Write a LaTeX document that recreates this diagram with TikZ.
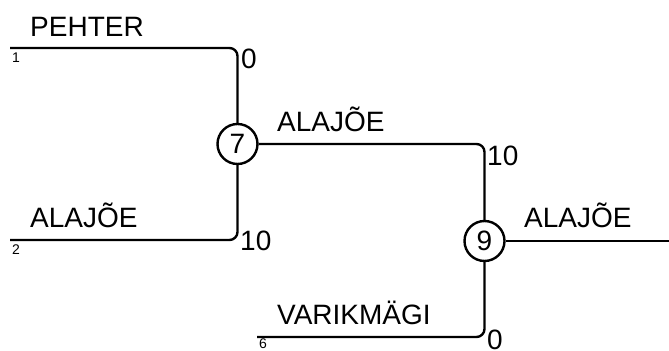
\documentclass[tikz,border=0pt]{standalone}
\usepackage{fontspec}
\setmainfont{Liberation Sans}
\tikzset{
  team/.style={inner sep=0pt,anchor=base west,font=\fontsize{14}{16}\selectfont},
  score/.style={inner sep=0pt,anchor=west,font=\fontsize{14}{16}\selectfont},
  seed/.style={inner sep=0pt,anchor=west,font=\fontsize{7}{8}\selectfont},
  game/.style={draw,circle,line width=1.2pt,minimum size=20pt,inner sep=0pt,font=\fontsize{14}{16}\selectfont}
}
\begin{document}
\begin{tikzpicture}[x=0.5pt,y=-0.5pt,line width=1.2pt,line join=round]
  \useasboundingbox (0,0) rectangle (669,351);
  \node[game] (m7) at (237.5,144) {7};
  \node[game] (m9) at (484.5,241) {9};
  \coordinate (p1) at (10,48);
  \coordinate (p2) at (10,240);
  \coordinate (p6) at (257,337);
  \coordinate (w) at (669,241);
  \node[team] (n1) at (29,37) {PEHTER};
  \node[team] (n2) at (29,228) {ALAJÕE};
  \node[team] (n7) at (276,132) {ALAJÕE};
  \node[team] (n6) at (276,325) {VARIKMÄGI};
  \node[team] (n9) at (523,228) {ALAJÕE};
  \node[seed] (k1) at (11,58) {1};
  \node[seed] (k2) at (11,250) {2};
  \node[seed] (k6) at (258,344) {6};
  \node[score] (s1) at (240,59) {0};
  \node[score] (s2) at (239,241) {10};
  \node[score] (s7) at (486,156) {10};
  \node[score] (s6) at (486,340) {0};
  \draw[rounded corners=4pt] (p1) -| (m7);
  \draw[rounded corners=4pt] (p2) -| (m7);
  \draw[rounded corners=4pt] (m7) -| (m9);
  \draw[rounded corners=4pt] (p6) -| (m9);
  \draw (m9) -- (w);
\end{tikzpicture}
\end{document}
